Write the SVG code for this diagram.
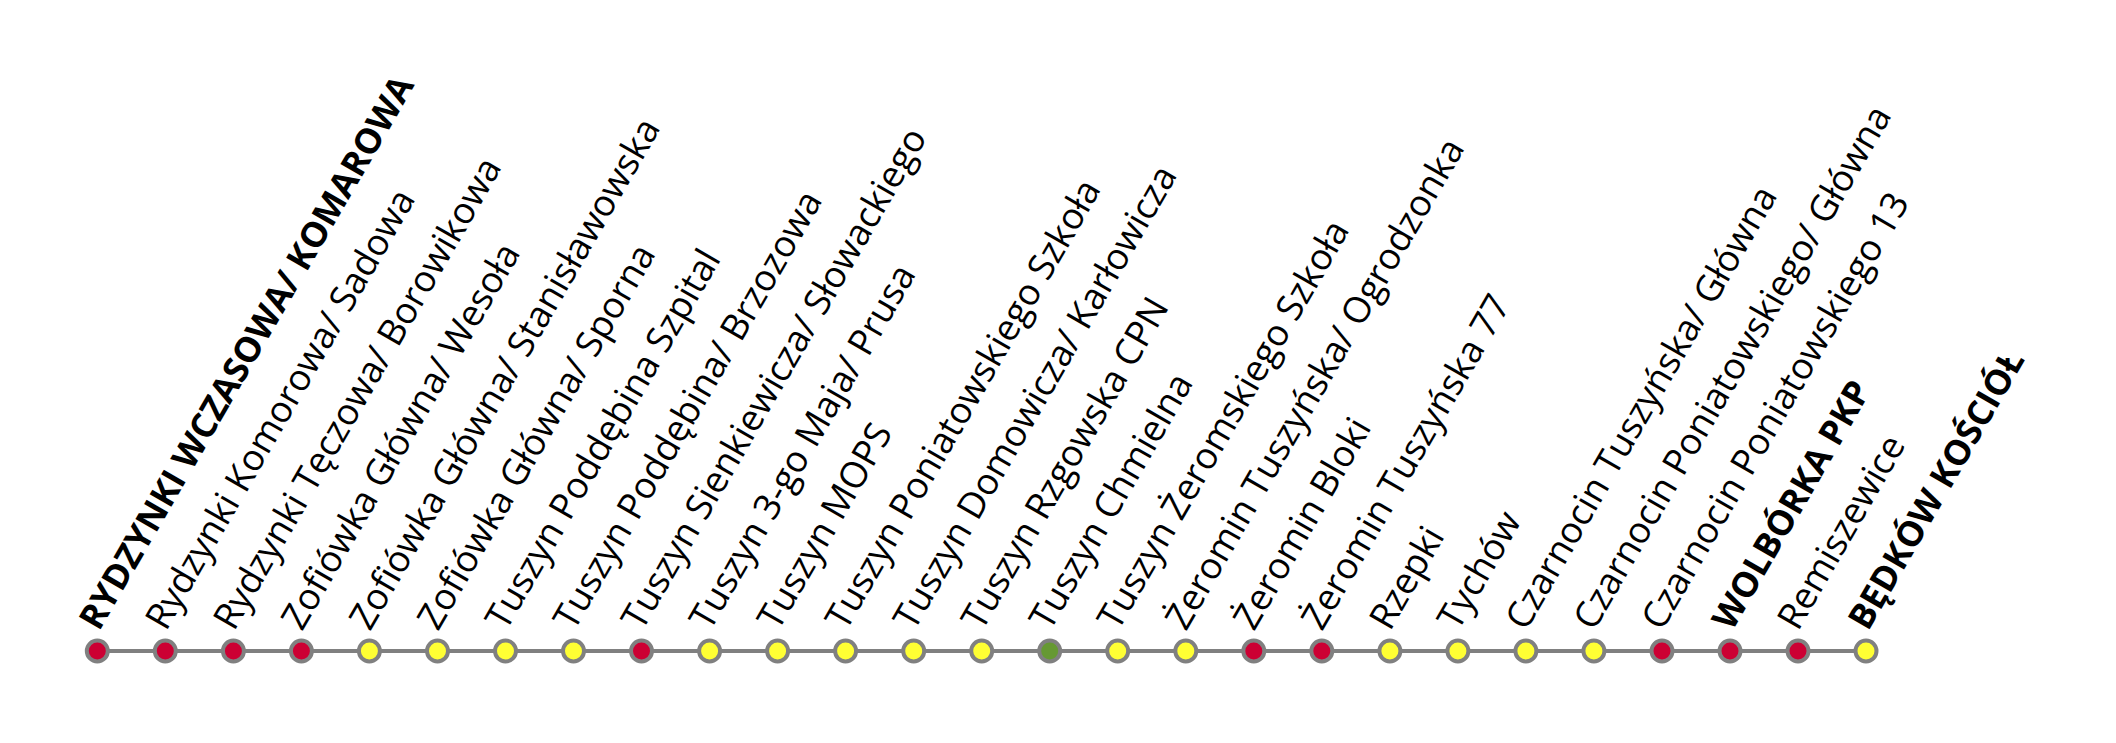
<svg xmlns="http://www.w3.org/2000/svg" width="2116" height="743" viewBox="0 0 2116 743">
<style>
.lbl{font-family:"Open Sans","Noto Sans","DejaVu Sans",sans-serif;font-size:36.5px;fill:#000}
.b{font-weight:bold;font-size:35px}
.st{stroke:#808080;stroke-width:4}
.r{fill:#CC0033}
.y{fill:#FFFF33}
.g{fill:#669933}
</style>
<rect width="2116" height="743" fill="#fff"/>
<g id="connectors">
<line x1="97.3" y1="651" x2="1866" y2="651" stroke="#808080" stroke-width="4"/>
</g>
<g id="s0"><circle class="st r" cx="97.3" cy="651" r="10.5"/><text class="lbl b" transform="translate(99,632) rotate(-60)">RYDZYNKI WCZASOWA/ KOMAROWA</text></g>
<g id="s1"><circle class="st r" cx="165.3" cy="651" r="10.5"/><text class="lbl" transform="translate(166,632) rotate(-60)">Rydzynki Komorowa/ Sadowa</text></g>
<g id="s2"><circle class="st r" cx="233.4" cy="651" r="10.5"/><text class="lbl" transform="translate(234,632) rotate(-60)">Rydzynki Tęczowa/ Borowikowa</text></g>
<g id="s3"><circle class="st r" cx="301.4" cy="651" r="10.5"/><text class="lbl" transform="translate(302,632) rotate(-60)">Zofiówka Główna/ Wesoła</text></g>
<g id="s4"><circle class="st y" cx="369.4" cy="651" r="10.5"/><text class="lbl" transform="translate(370,632) rotate(-60)">Zofiówka Główna/ Stanisławowska</text></g>
<g id="s5"><circle class="st y" cx="437.5" cy="651" r="10.5"/><text class="lbl" transform="translate(438,632) rotate(-60)">Zofiówka Główna/ Sporna</text></g>
<g id="s6"><circle class="st y" cx="505.5" cy="651" r="10.5"/><text class="lbl" transform="translate(506,632) rotate(-60)">Tuszyn Poddębina Szpital</text></g>
<g id="s7"><circle class="st y" cx="573.5" cy="651" r="10.5"/><text class="lbl" transform="translate(574,632) rotate(-60)">Tuszyn Poddębina/ Brzozowa</text></g>
<g id="s8"><circle class="st r" cx="641.5" cy="651" r="10.5"/><text class="lbl" transform="translate(642,632) rotate(-60)">Tuszyn Sienkiewicza/ Słowackiego</text></g>
<g id="s9"><circle class="st y" cx="709.6" cy="651" r="10.5"/><text class="lbl" transform="translate(710,632) rotate(-60)">Tuszyn 3-go Maja/ Prusa</text></g>
<g id="s10"><circle class="st y" cx="777.6" cy="651" r="10.5"/><text class="lbl" transform="translate(778,632) rotate(-60)">Tuszyn MOPS</text></g>
<g id="s11"><circle class="st y" cx="845.6" cy="651" r="10.5"/><text class="lbl" transform="translate(846,632) rotate(-60)">Tuszyn Poniatowskiego Szkoła</text></g>
<g id="s12"><circle class="st y" cx="913.7" cy="651" r="10.5"/><text class="lbl" transform="translate(914,632) rotate(-60)">Tuszyn Domowicza/ Karłowicza</text></g>
<g id="s13"><circle class="st y" cx="981.7" cy="651" r="10.5"/><text class="lbl" transform="translate(982,632) rotate(-60)">Tuszyn Rzgowska CPN</text></g>
<g id="s14"><circle class="st g" cx="1049.7" cy="651" r="10.5"/><text class="lbl" transform="translate(1050,632) rotate(-60)">Tuszyn Chmielna</text></g>
<g id="s15"><circle class="st y" cx="1117.7" cy="651" r="10.5"/><text class="lbl" transform="translate(1118,632) rotate(-60)">Tuszyn Żeromskiego Szkoła</text></g>
<g id="s16"><circle class="st y" cx="1185.8" cy="651" r="10.5"/><text class="lbl" transform="translate(1186,632) rotate(-60)">Żeromin Tuszyńska/ Ogrodzonka</text></g>
<g id="s17"><circle class="st r" cx="1253.8" cy="651" r="10.5"/><text class="lbl" transform="translate(1254,632) rotate(-60)">Żeromin Bloki</text></g>
<g id="s18"><circle class="st r" cx="1321.8" cy="651" r="10.5"/><text class="lbl" transform="translate(1322,632) rotate(-60)">Żeromin Tuszyńska 77</text></g>
<g id="s19"><circle class="st y" cx="1389.9" cy="651" r="10.5"/><text class="lbl" transform="translate(1390,632) rotate(-60)">Rzepki</text></g>
<g id="s20"><circle class="st y" cx="1457.9" cy="651" r="10.5"/><text class="lbl" transform="translate(1458,632) rotate(-60)">Tychów</text></g>
<g id="s21"><circle class="st y" cx="1525.9" cy="651" r="10.5"/><text class="lbl" transform="translate(1526,632) rotate(-60)">Czarnocin Tuszyńska/ Główna</text></g>
<g id="s22"><circle class="st y" cx="1593.9" cy="651" r="10.5"/><text class="lbl" transform="translate(1594,632) rotate(-60)">Czarnocin Poniatowskiego/ Główna</text></g>
<g id="s23"><circle class="st r" cx="1662" cy="651" r="10.5"/><text class="lbl" transform="translate(1662,632) rotate(-60)">Czarnocin Poniatowskiego 13</text></g>
<g id="s24"><circle class="st r" cx="1730" cy="651" r="10.5"/><text class="lbl b" transform="translate(1732,632) rotate(-60)">WOLBÓRKA PKP</text></g>
<g id="s25"><circle class="st r" cx="1798" cy="651" r="10.5"/><text class="lbl" transform="translate(1798,632) rotate(-60)">Remiszewice</text></g>
<g id="s26"><circle class="st y" cx="1866" cy="651" r="10.5"/><text class="lbl b" transform="translate(1868,632) rotate(-60)">BĘDKÓW KOŚCIÓŁ</text></g>
</svg>
